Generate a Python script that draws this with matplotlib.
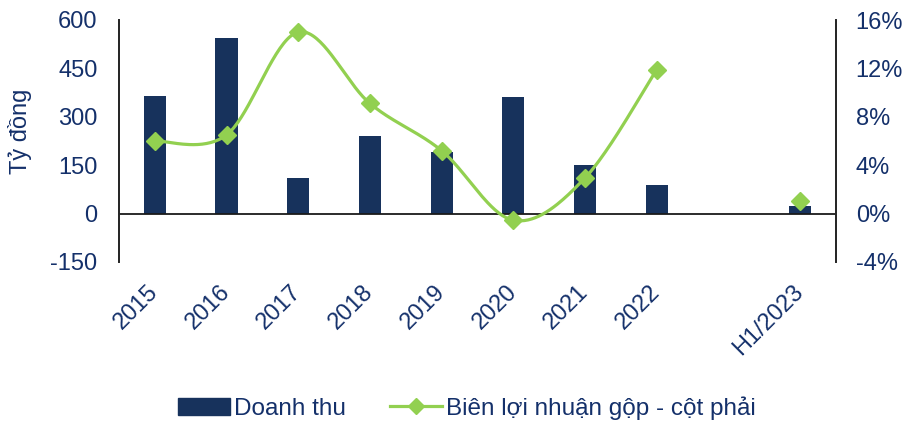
import numpy as np
import matplotlib
matplotlib.use("Agg")
import matplotlib.pyplot as plt
from matplotlib.lines import Line2D
from matplotlib.patches import Patch

plt.rcParams['font.family'] = ['Liberation Sans', 'DejaVu Sans']

categories = ['2015', '2016', '2017', '2018', '2019', '2020', '2021', '2022', '', 'H1/2023']
revenue = [366, 544, 110, 241, 191, 362, 152, 88, np.nan, 23]
margin = [6.0, 6.5, 15.0, 9.1, 5.2, -0.55, 2.95, 11.9, np.nan, 1.0]
left_ticks = [-150, 0, 150, 300, 450, 600]
right_ticks = [-4, 0, 4, 8, 12, 16]

BAR = '#17325C'
GREEN = '#92D050'
TXT = '#14306A'

fig = plt.figure(figsize=(9.03, 4.23), dpi=100)
ax = fig.add_axes([119/903, 1-262/423, (836-119)/903, (262-20)/423])
ax2 = ax.twinx()

x = np.arange(len(categories))
ax.bar(x, revenue, width=0.31, color=BAR, zorder=2)
ax.axhline(0, color='#1a1a1a', lw=1.3, zorder=3)
ax.set_xlim(-0.5, len(categories)-0.5)
ax.set_ylim(-150, 600)
ax.set_yticks(left_ticks)
ax.set_yticklabels([str(t) for t in left_ticks])
ax.set_ylabel('Tỷ đồng', fontsize=17, color=TXT)
ax.yaxis.set_label_coords((32-119)/717, 0.54)

ax2.set_ylim(-4, 16)
ax2.set_yticks(right_ticks)
ax2.set_yticklabels([f'{t}%' for t in right_ticks])

# smooth line through consecutive points (Catmull-Rom / Bezier like Excel)
def smooth(xs, ys, n=40):
    px, py = [], []
    m = len(xs)
    for i in range(m-1):
        p0 = np.array([xs[max(i-1, 0)], ys[max(i-1, 0)]])
        p1 = np.array([xs[i], ys[i]])
        p2 = np.array([xs[i+1], ys[i+1]])
        p3 = np.array([xs[min(i+2, m-1)], ys[min(i+2, m-1)]])
        c1 = p1 + (p2 - p0) / 6
        c2 = p2 - (p3 - p1) / 6
        t = np.linspace(0, 1, n)[:, None]
        pts = ((1-t)**3)*p1 + 3*((1-t)**2)*t*c1 + 3*(1-t)*t**2*c2 + t**3*p2
        px.extend(pts[:, 0]); py.extend(pts[:, 1])
    return px, py

mg = np.array(margin, dtype=float)
seg = []
for i in range(len(mg)+1):
    if i < len(mg) and not np.isnan(mg[i]):
        seg.append(i)
    else:
        if len(seg) > 1:
            sx, sy = smooth(x[seg].astype(float), mg[seg])
            ax2.plot(sx, sy, color=GREEN, lw=2.3, zorder=4, solid_capstyle='round')
        seg = []
ax2.plot(x, mg, ls='none', marker='D', ms=9.5, color=GREEN, zorder=5)

for a in (ax, ax2):
    for s in ('top', 'bottom'):
        a.spines[s].set_visible(False)
    a.spines['left'].set_color('#262626')
    a.spines['right'].set_color('#262626')
    a.spines['left'].set_linewidth(1.3)
    a.spines['right'].set_linewidth(1.3)
    a.tick_params(axis='y', length=0, labelsize=17, labelcolor=TXT)
ax.tick_params(axis='y', pad=15.5)
ax2.tick_params(axis='y', pad=14.2)

ax.set_xticks(x)
ax.set_xticklabels(categories, rotation=45, ha='right', va='center',
                   rotation_mode='anchor', fontsize=17, color=TXT)
ax.tick_params(axis='x', length=0, pad=19)

handles = [Patch(color=BAR),
           Line2D([], [], color=GREEN, lw=2.3, marker='D', ms=8)]
fig.legend(handles, ['Doanh thu', 'Biên lợi nhuận gộp - cột phải'],
           loc='center', bbox_to_anchor=(467/903, 1-408/423), ncol=2,
           frameon=False, fontsize=17.5, labelcolor=TXT, handlelength=2.14,
           handletextpad=0.16, columnspacing=1.8, handleheight=0.7)

fig.savefig('out.png', dpi=100)
